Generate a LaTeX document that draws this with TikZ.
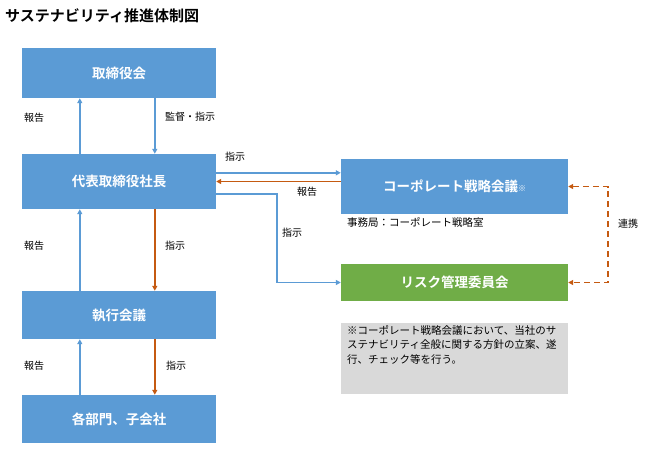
\documentclass[tikz,border=0pt]{standalone}
\usepackage{fontspec}
\setmainfont{Noto Sans CJK JP}[BoldFont={Noto Sans CJK JP Bold}]
\usetikzlibrary{arrows.meta}
\definecolor{bblue}{HTML}{5B9BD5}
\definecolor{bgreen}{HTML}{70AD47}
\definecolor{borange}{HTML}{C55A11}
\definecolor{bgrey}{HTML}{D9D9D9}
\begin{document}
\begin{tikzpicture}[x=1pt,y=-1pt,
  box/.style={fill=bblue, draw=none, text=white, font=\fontsize{13.5}{15}\selectfont\bfseries,
    minimum width=194pt, inner sep=0pt},
  rbox/.style={box, minimum width=227pt},
  lbl/.style={anchor=west, inner sep=0pt, font=\fontsize{10}{12}\selectfont},
  barr/.style={draw=bblue, line width=1.8pt, -{Triangle[length=5pt,width=5pt]}},
  oarr/.style={draw=borange, line width=1.8pt, -{Triangle[length=5pt,width=5pt]}},
  darr/.style={draw=borange, line width=1.6pt, dash pattern=on 6pt off 4pt,
    {Triangle[length=5pt,width=5pt]}-{Triangle[length=5pt,width=5pt]}}
]
\useasboundingbox (0,0) rectangle (645,451);
\fill[white] (0,0) rectangle (645,451);

\node[anchor=west, inner sep=0pt, font=\fontsize{15}{17}\selectfont\bfseries] (title) at (5,16) {サステナビリティ推進体制図};

\node[box, minimum height=50pt] (board) at (119,73) {取締役会};
\node[box, minimum height=55pt] (ceo) at (119,181.5) {代表取締役社長};
\node[box, minimum height=48pt] (exec) at (119,315) {執行会議};
\node[box, minimum height=48pt] (dept) at (119,419) {各部門、子会社};
\node[rbox, minimum height=55pt] (corp) at (454.5,186.5) {コーポレート戦略会議{\fontsize{8}{9}\selectfont ※}};
\node[rbox, fill=bgreen, minimum height=37pt] (rm) at (454.5,282.5) {リスク管理委員会};
\node[fill=bgrey, minimum width=227pt, minimum height=71pt, anchor=north west, inner sep=0pt] (note) at (341,323) {};
\node[anchor=north west, align=left, inner sep=0pt, font=\fontsize{10.5}{14.5}\selectfont] (notetext) at (347,325)
 {※コーポレート戦略会議において、当社のサ\\ステナビリティ全般に関する方針の立案、遂\\行、チェック等を行う。};

% vertical arrows
\draw[barr] ([xshift=58pt]ceo.north west) -- ([xshift=58pt]board.south west);
\draw[barr] ([xshift=133pt]board.south west) -- ([xshift=133pt]ceo.north west);
\draw[barr] ([xshift=58pt]exec.north west) -- ([xshift=58pt]ceo.south west);
\draw[oarr] ([xshift=133pt]ceo.south west) -- ([xshift=133pt]exec.north west);
\draw[barr] ([xshift=58pt]dept.north west) -- ([xshift=58pt]exec.south west);
\draw[oarr] ([xshift=133pt]exec.south west) -- ([xshift=133pt]dept.north west);

% horizontal arrows
\coordinate (p1) at ([yshift=-19pt]ceo.north east);
\coordinate (p2) at ([yshift=-40pt]ceo.north east);
\draw[barr] (p1) -- (p1 -| corp.west);
\draw[oarr] (ceo.east -| corp.west) -- (ceo.east);
\draw[barr] (p2) -- ++(61,0) |- (rm.west);
\draw[darr] (corp.east) -- ++(40,0) |- (rm.east);

% labels
\node[lbl] (l1) at (24,118) {報告};
\node[lbl] (l2) at (165,117) {監督・指示};
\node[lbl] (l3) at (225,157) {指示};
\node[lbl] (l4) at (297,192) {報告};
\node[lbl, font=\fontsize{10.5}{12}\selectfont] (l5) at (347,222) {事務局：コーポレート戦略室};
\node[lbl] (l6) at (282,233) {指示};
\node[lbl] (l7) at (618,224) {連携};
\node[lbl] (l8) at (24,246) {報告};
\node[lbl] (l9) at (165,246) {指示};
\node[lbl] (l10) at (24,366) {報告};
\node[lbl] (l11) at (166,366) {指示};
\end{tikzpicture}
\end{document}
